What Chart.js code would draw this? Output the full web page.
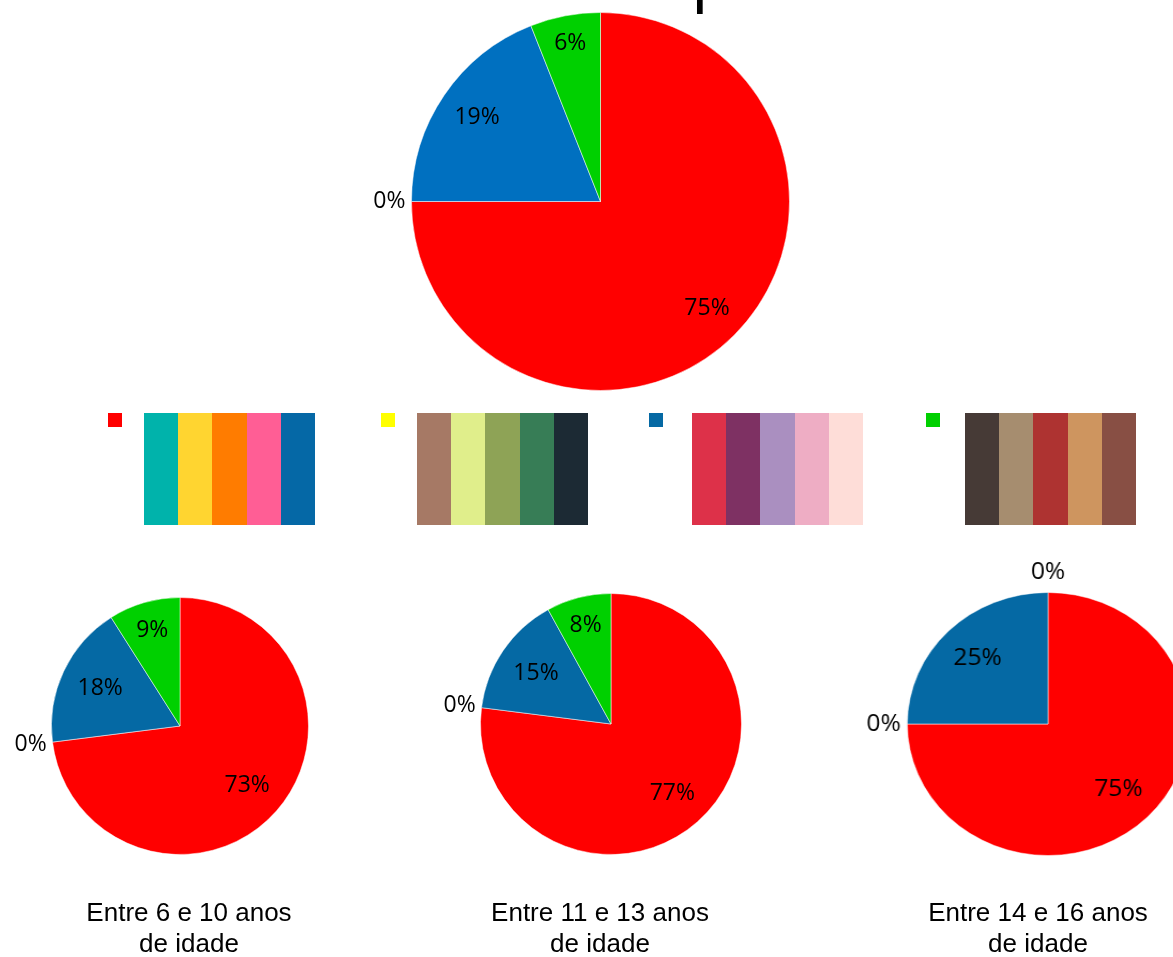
<!DOCTYPE html>
<html>
<head>
<meta charset="utf-8">
<title>Distribuição por faixa etária</title>
<script src="https://cdn.jsdelivr.net/npm/chart.js"></script>
<style>
  html, body { margin: 0; padding: 0; background: #fff; }
  #page { position: relative; width: 1173px; height: 957px; overflow: hidden; }
  #title { position: absolute; left: 691px; top: -65px; font: 400 70px/70px "Open Sans", sans-serif; color: #000; white-space: nowrap; }
  canvas { position: absolute; }
  .legend-box { position: absolute; top: 413px; width: 14px; height: 14px; }
  .legend-palette { position: absolute; top: 413px; display: flex; height: 112px; }
  .legend-palette span { display: block; width: 34.2px; height: 112px; }
  .caption { position: absolute; width: 320px; text-align: center; top: 897px;
             font: 26px/31px "Liberation Sans", Arial, sans-serif; color: #000; }
</style>
</head>
<body>
<div id="page">
  <div id="title">p</div>
  <div id="legend"></div>
  <canvas id="pie-total"></canvas>
  <canvas id="pie-6-10"></canvas>
  <canvas id="pie-11-13"></canvas>
  <canvas id="pie-14-16"></canvas>
</div>
<script>
// categorias (sem texto na legenda, apenas a cor e a paleta ao lado)
let categories = ['Grupo 1', 'Grupo 2', 'Grupo 3', 'Grupo 4'];

// percentagens por grupo
let totalValues = [75, 0, 19, 6];
let age6to10Values = [73, 0, 18, 9];
let age11to13Values = [77, 0, 15, 8];
let age14to16Values = [75, 0, 25, 0];

let ageGroupCaptions = [
	['Entre 6 e 10 anos', 'de idade'],
	['Entre 11 e 13 anos', 'de idade'],
	['Entre 14 e 16 anos', 'de idade']
];

let sliceColors = ['#FF0000', '#FFFF00', '#0569A4', '#00D000'];
let totalSliceColors = ['#FF0000', '#FFFF00', '#0070C0', '#00D000'];

let legendPalettes = [
	['#00B3AB', '#FFD530', '#FF7C00', '#FF5E95', '#0568A6'],
	['#A67965', '#E0EE8B', '#8EA356', '#377D56', '#1C2A34'],
	['#DD3149', '#7E3163', '#AA8FC0', '#EEADC4', '#FEDDD8'],
	['#463A36', '#A68D6F', '#AE3331', '#CE955F', '#884F44']
];

// percentagem em cada fatia; fatias a zero ficam com o texto fora do círculo
let percentLabels = {
	id: 'percentLabels',
	afterDatasetsDraw(chart) {
		let ctx = chart.ctx;
		let meta = chart.getDatasetMeta(0);
		let values = chart.data.datasets[0].data;
		ctx.save();
		ctx.font = '23px "Open Sans"';
		ctx.fillStyle = '#000';
		ctx.textAlign = 'center';
		ctx.textBaseline = 'middle';
		meta.data.forEach((arc, i) => {
			let { x, y, startAngle, endAngle, outerRadius } = arc.getProps(['x', 'y', 'startAngle', 'endAngle', 'outerRadius'], true);
			let mid = (startAngle + endAngle) / 2;
			let text = values[i] + '%';
			let w = ctx.measureText(text).width;
			let cos = Math.cos(mid);
			let sin = Math.sin(mid);
			let lx, ly;
			if (values[i] > 0) {
				// encostado ao bordo, por dentro
				let d = outerRadius - 16 - Math.abs(cos) * w / 2 - Math.abs(sin) * 9;
				lx = x + cos * d;
				ly = y + sin * d;
			} else {
				let d = outerRadius + 6;
				lx = x + cos * (d + w / 2);
				ly = y + sin * (d + 14);
			}
			ctx.fillText(text, lx, ly);
		});
		ctx.restore();
	}
};

function makePie(id, values, colors, cx, cy, r) {
	let margin = 70;
	let canvas = document.getElementById(id);
	let size = 2 * (r + margin);
	canvas.width = size;
	canvas.height = size;
	canvas.style.width = size + 'px';
	canvas.style.height = size + 'px';
	canvas.style.left = (cx - r - margin) + 'px';
	canvas.style.top = (cy - r - margin) + 'px';
	return new Chart(canvas, {
		type: 'pie',
		data: {
			labels: categories,
			datasets: [{
				data: values,
				backgroundColor: colors,
				borderColor: 'rgba(255,255,255,0.5)',
				borderWidth: 1
			}]
		},
		options: {
			responsive: false,
			animation: false,
			events: [],
			layout: { padding: margin },
			plugins: {
				legend: { display: false },
				tooltip: { enabled: false }
			}
		},
		plugins: [percentLabels]
	});
}

makePie('pie-total', totalValues, totalSliceColors, 600, 201, 189.5);
makePie('pie-6-10', age6to10Values, sliceColors, 180, 726, 129);
makePie('pie-11-13', age11to13Values, sliceColors, 611, 724, 131);
let lastPie = makePie('pie-14-16', age14to16Values, sliceColors, 1048, 724, 132);
lastPie.canvas.style.transform = 'scaleX(1.07)';

// legenda: quadrado da categoria seguido da respetiva paleta
function buildLegend() {
	let legend = document.getElementById('legend');
	let boxLefts = [108, 381, 649, 926];
	let paletteLefts = [144, 417, 692, 965];
	categories.forEach((name, i) => {
		let box = document.createElement('div');
		box.className = 'legend-box';
		box.style.left = boxLefts[i] + 'px';
		box.style.background = sliceColors[i];
		box.title = name;
		legend.appendChild(box);
		let palette = document.createElement('div');
		palette.className = 'legend-palette';
		palette.style.left = paletteLefts[i] + 'px';
		legendPalettes[i].forEach((color) => {
			let stripe = document.createElement('span');
			stripe.style.background = color;
			palette.appendChild(stripe);
		});
		legend.appendChild(palette);
	});
}

function buildCaptions() {
	let page = document.getElementById('page');
	let centers = [189, 600, 1038];
	ageGroupCaptions.forEach((lines, i) => {
		let caption = document.createElement('div');
		caption.className = 'caption';
		caption.style.left = (centers[i] - 160) + 'px';
		caption.innerHTML = lines.join('<br>');
		page.appendChild(caption);
	});
}

buildLegend();
buildCaptions();
</script>
</body>
</html>
